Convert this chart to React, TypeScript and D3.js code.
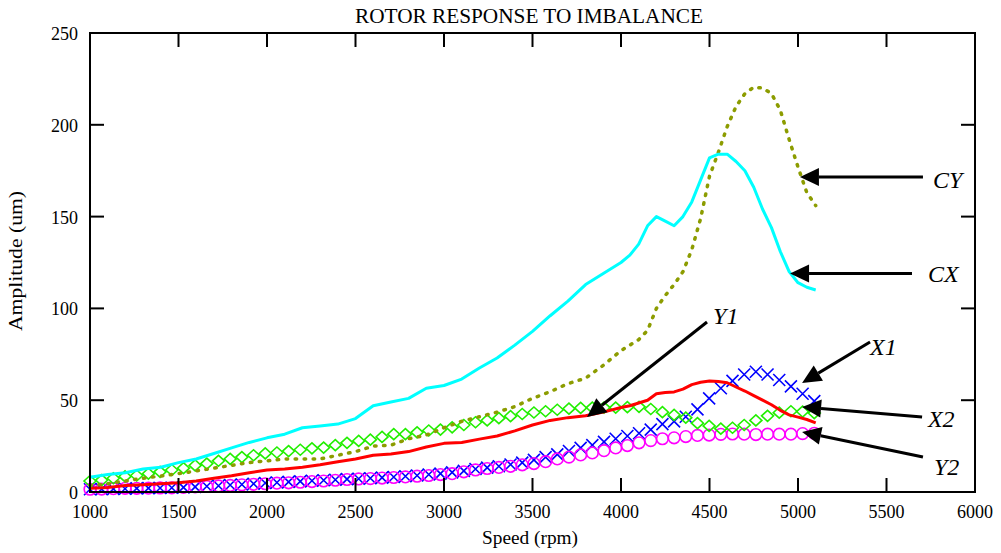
import React from 'react';
import * as d3 from 'd3';

// ---- data ----
const speedsLine = [
  1000, 1100, 1200, 1300, 1400, 1500, 1600, 1700, 1800, 1900, 2000,
  2100, 2200, 2300, 2400, 2500, 2600, 2700, 2800, 2900, 3000,
  3100, 3200, 3300, 3400, 3500, 3600, 3700, 3800, 3900, 4000,
  4050, 4100, 4150, 4200, 4250, 4300, 4350, 4400, 4450, 4500,
  4550, 4600, 4650, 4700, 4750, 4800, 4850, 4900, 4950, 5000,
  5050, 5100,
];
const cxValues = [
  8, 9.5, 10.5, 12.5, 13.5, 16, 18, 21, 24, 27, 29.5,
  31.5, 35, 36, 37, 40, 47, 49, 51, 56.5, 58,
  61.5, 67.5, 73, 80, 87.5, 96, 104, 113, 119, 125,
  129, 135, 145, 150, 147.5, 145, 150, 158, 170, 182,
  184, 184, 180, 175, 166, 154, 144, 131, 120, 114,
  111.5, 110,
];
const cyValues = [
  3.5, 4.5, 6, 7.5, 8.7, 10, 11.5, 13, 14.5, 16, 17,
  18, 18, 18, 20, 22, 25, 25.5, 29, 31, 35,
  38.5, 41, 43.5, 46.5, 51, 54.6, 59, 62, 69, 77,
  80, 83, 88, 100, 107, 113, 120, 132, 149, 172,
  185, 199, 210, 217, 220.5, 220, 217, 208, 192, 177,
  163, 156,
];
const y1Values = [
  2, 2.5, 3.5, 4, 4.5, 5, 6, 7.5, 8.8, 10.5, 12,
  12.5, 13.5, 14.8, 16.5, 18, 20, 20.7, 22, 24.5, 26.5,
  27, 28.8, 30.5, 33.3, 36.5, 39, 40.5, 41.5, 43.5, 46,
  47, 48.5, 50, 53.5, 54.2, 54.5, 56, 58.5, 59.8, 60.5,
  60.2, 59.5, 57.2, 55, 52.5, 50, 47.5, 44.5, 42, 40.8,
  39.5, 37.7,
];

const speedsMarker = [
  1000, 1066, 1132, 1198, 1264, 1330, 1396, 1462, 1528, 1594,
  1660, 1726, 1792, 1858, 1924, 1990, 2056, 2122, 2188, 2254,
  2320, 2386, 2452, 2518, 2584, 2650, 2716, 2782, 2848, 2914,
  2980, 3046, 3112, 3178, 3244, 3310, 3376, 3442, 3508, 3574,
  3640, 3706, 3772, 3838, 3904, 3970, 4036, 4102, 4168, 4234,
  4300, 4366, 4432, 4498, 4564, 4630, 4696, 4762, 4828, 4894,
  4960, 5026, 5092,
];
const x1Values = [
  1.5, 1.6, 1.7, 1.8, 2, 2.1, 2.2, 2.3, 2.5, 2.8,
  3.1, 3.4, 3.8, 4.1, 4.5, 4.9, 5.2, 5.5, 5.8, 6.1,
  6.4, 6.7, 7, 7.2, 7.5, 7.8, 8.2, 8.6, 9, 9.5,
  10, 10.7, 11.5, 12.5, 13.3, 14, 15, 16, 17.5, 19,
  20.5, 22.3, 24, 25.5, 27.3, 29, 30.5, 32, 34, 37,
  38.5, 41, 45, 51, 56.5, 60.5, 64, 65.5, 64, 61,
  57.5, 53.5, 49.5,
];
const x2Values = [
  6, 6.5, 7.5, 8.5, 9, 10, 11, 12, 13, 14.5,
  15.5, 17, 18, 19, 20, 21, 21.5, 22.3, 23, 23.8,
  24.2, 25.5, 26.8, 27.8, 28.5, 30, 31.5, 31.5, 32.5, 33.5,
  34, 35.2, 36.5, 38, 39, 40.2, 41.3, 42.5, 43.3, 44,
  44.8, 45.4, 45.8, 46, 46, 46, 46.2, 46.4, 45.2, 43.5,
  42, 40.5, 37.5, 36, 34.5, 35, 36.5, 39, 41.5, 43.2,
  44, 43.8, 43,
];
const y2Values = [
  1.5, 1.6, 1.8, 2, 2, 2.1, 2.2, 2.3, 2.5, 2.8,
  3, 3.3, 3.6, 3.9, 4.2, 4.5, 4.8, 5, 5.3, 5.7,
  6, 6.4, 6.8, 7.1, 7.3, 7.6, 7.9, 8.2, 8.6, 9,
  9.5, 10, 11, 12, 12.8, 13.4, 14, 14.8, 15.5, 16.5,
  18, 19, 20.2, 21.3, 22.5, 24, 25.3, 26.8, 28, 29,
  29.5, 30.2, 30.8, 31, 31.4, 31.6, 31.5, 31.3, 31.5, 31.5,
  31.5, 31.8, 32,
];

const xTicks = [1000, 1500, 2000, 2500, 3000, 3500, 4000, 4500, 5000, 5500, 6000];
const yTicks = [0, 50, 100, 150, 200, 250];

// annotation arrows: [label, tipSpeed, tipAmp, tailSpeed, tailAmp, labelSpeed, labelAmp]
const annLabels = ['CY', 'CX', 'Y1', 'X1', 'X2', 'Y2'];
const annTip = [[5011, 171.6], [4955, 119], [3808, 40.8], [5023, 59.4], [5023, 46.3], [5023, 32.7]];
const annTail = [[5706, 171.6], [5644, 119], [4486, 92.6], [5407, 81.7], [5701, 40.8], [5706, 19.1]];
const annText = [[5763, 165.6], [5734, 114.4], [4520, 91.5], [5407, 74.6], [5734, 35.4], [5768, 9.2]];

const TITLE = 'ROTOR RESPONSE TO IMBALANCE';
const XLABEL = 'Speed (rpm)';
const YLABEL = 'Amplitude (um)';

const W = 1001;
const H = 553;
const L = 90, R = 975, T = 33, B = 492;

export default function App() {
  const x = d3.scaleLinear().domain([1000, 6000]).range([L, R]);
  const y = d3.scaleLinear().domain([0, 250]).range([B, T]);

  const lineGen = (vals: number[]) =>
    d3.line<number>()
      .x((_, i) => x(speedsLine[i]))
      .y((d) => y(d))(vals) as string;

  const serif = '"Liberation Serif", "Times New Roman", serif';
  const tickLen = 14;

  const arrow = (i: number) => {
    const [ts, ta] = annTip[i];
    const [ls, la] = annTail[i];
    const tx = x(ts), ty = y(ta), lx = x(ls), ly = y(la);
    const ang = Math.atan2(ty - ly, tx - lx);
    const hl = 19, hw = 9;
    const bx = tx - hl * Math.cos(ang), by = ty - hl * Math.sin(ang);
    const px = -Math.sin(ang) * hw, py = Math.cos(ang) * hw;
    const [xs, as] = annText[i];
    return (
      <g key={annLabels[i]}>
        <line x1={lx} y1={ly} x2={bx} y2={by} stroke="#000" strokeWidth={3} />
        <polygon points={`${tx},${ty} ${bx + px},${by + py} ${bx - px},${by - py}`} fill="#000" />
        <text x={x(xs)} y={y(as)} fontFamily={serif} fontStyle="italic" fontSize={24} fill="#000">
          {annLabels[i]}
        </text>
      </g>
    );
  };

  return (
    <svg width={W} height={H} style={{ position: 'absolute', left: 0, top: 0, background: '#fff' }}>
      <rect x={0} y={0} width={W} height={H} fill="#fff" />
      <text x={529} y={23} textAnchor="middle" fontFamily={serif} fontSize={20} textLength={348} lengthAdjust="spacingAndGlyphs">
        {TITLE}
      </text>

      {/* series */}
      <g>
        {speedsMarker.map((s, i) => {
          const cx = x(s), cy = y(x1Values[i]);
          return (
            <path key={'x1' + i} d={`M${cx - 6},${cy - 6}L${cx + 6},${cy + 6}M${cx - 6},${cy + 6}L${cx + 6},${cy - 6}`}
              stroke="#0000ff" strokeWidth={1.6} fill="none" />
          );
        })}
      </g>
      <g>
        {speedsMarker.map((s, i) => (
          <circle key={'y2' + i} cx={x(s)} cy={y(y2Values[i])} r={5.8} stroke="#ff00ff" strokeWidth={1.6} fill="none" />
        ))}
      </g>
      <g>
        {speedsMarker.map((s, i) => {
          const cx = x(s), cy = y(x2Values[i]);
          return (
            <path key={'x2' + i} d={`M${cx},${cy - 5.5}L${cx + 6},${cy}L${cx},${cy + 5.5}L${cx - 6},${cy}Z`}
              stroke="#22ee00" strokeWidth={1.6} fill="none" />
          );
        })}
      </g>
      <path d={lineGen(y1Values)} stroke="#ff0000" strokeWidth={3} fill="none" strokeLinejoin="round" />
      <path d={lineGen(cyValues)} stroke="#8c9c00" strokeWidth={3.5} fill="none" strokeDasharray="1.5 7.5" strokeLinecap="round" />
      <path d={lineGen(cxValues)} stroke="#00ffff" strokeWidth={3} fill="none" strokeLinejoin="round" />

      {/* frame and ticks */}
      <rect x={L} y={T} width={R - L} height={B - T} fill="none" stroke="#000" strokeWidth={2} />
      {xTicks.map((t) => (
        <g key={'xt' + t}>
          <line x1={x(t)} x2={x(t)} y1={B} y2={B - tickLen} stroke="#000" strokeWidth={2} />
          <line x1={x(t)} x2={x(t)} y1={T} y2={T + tickLen} stroke="#000" strokeWidth={2} />
          <text x={x(t)} y={518} textAnchor="middle" fontFamily={serif} fontSize={18}>{t}</text>
        </g>
      ))}
      {yTicks.map((t) => (
        <g key={'yt' + t}>
          <line x1={L} x2={L + tickLen} y1={y(t)} y2={y(t)} stroke="#000" strokeWidth={2} />
          <line x1={R} x2={R - tickLen} y1={y(t)} y2={y(t)} stroke="#000" strokeWidth={2} />
          <text x={78} y={y(t) + 7} textAnchor="end" fontFamily={serif} fontSize={18}>{t}</text>
        </g>
      ))}

      <text x={530} y={544} textAnchor="middle" fontFamily={serif} fontSize={18} textLength={96} lengthAdjust="spacingAndGlyphs">
        {XLABEL}
      </text>
      <text transform="translate(22,261) rotate(-90)" textAnchor="middle" fontFamily={serif} fontSize={19} textLength={140} lengthAdjust="spacingAndGlyphs">
        {YLABEL}
      </text>

      {annLabels.map((_, i) => arrow(i))}
    </svg>
  );
}
